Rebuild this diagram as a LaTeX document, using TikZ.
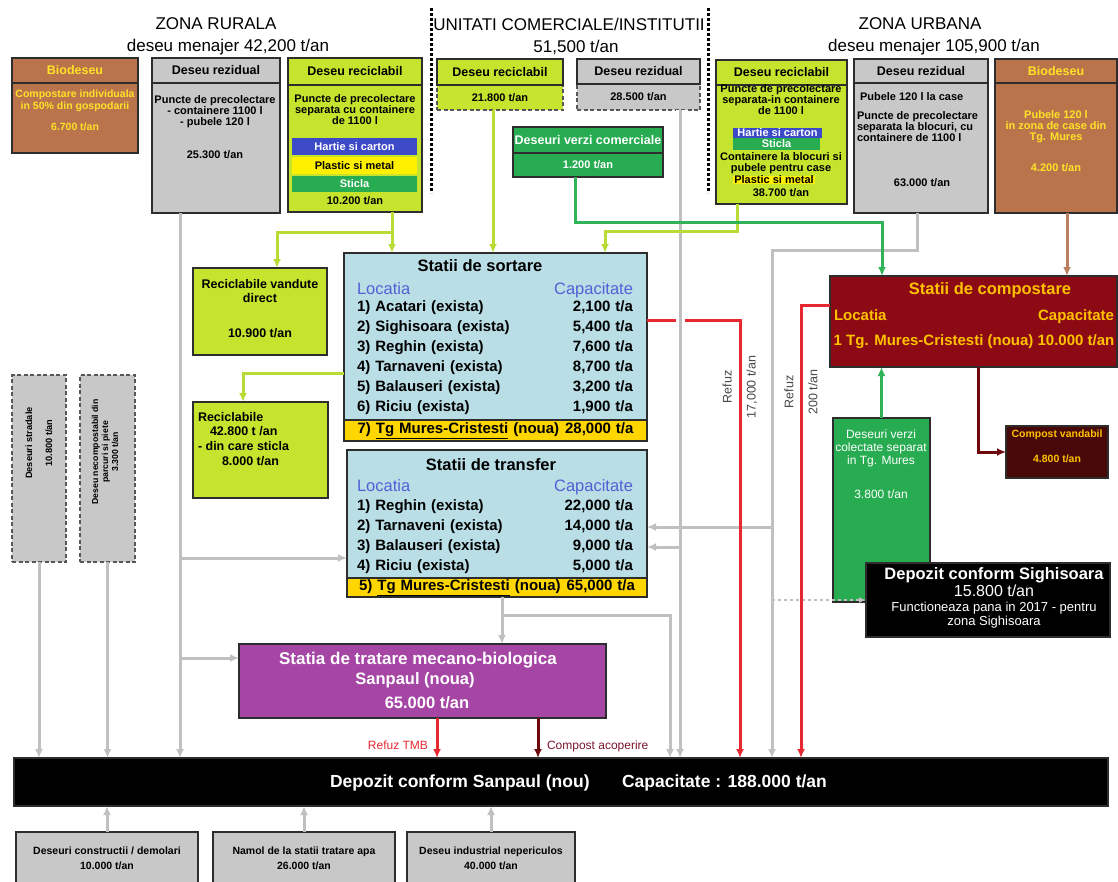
\documentclass[tikz,border=0pt]{standalone}
\usepackage{fontspec}
\setmainfont{Liberation Sans}
\usetikzlibrary{arrows.meta, positioning, calc}

\definecolor{bioC}{RGB}{186,116,76}
\definecolor{bioTxt}{RGB}{255,226,40}
\definecolor{greyC}{RGB}{200,200,200}
\definecolor{limeC}{RGB}{198,228,46}
\definecolor{blueC}{RGB}{60,74,200}
\definecolor{yelC}{RGB}{255,240,0}
\definecolor{greenC}{RGB}{40,172,82}
\definecolor{lblueC}{RGB}{186,222,230}
\definecolor{yrowC}{RGB}{255,214,0}
\definecolor{maroonC}{RGB}{140,10,20}
\definecolor{orangeTxt}{RGB}{255,194,0}
\definecolor{darkC}{RGB}{72,8,8}
\definecolor{purpleC}{RGB}{165,70,165}
\definecolor{edgeC}{RGB}{45,45,45}
\definecolor{locBlue}{RGB}{82,96,214}
\definecolor{lnGrey}{RGB}{192,192,192}
\definecolor{lnLime}{RGB}{184,220,52}
\definecolor{lnGreen}{RGB}{48,178,88}
\definecolor{lnRed}{RGB}{232,40,48}
\definecolor{lnBrown}{RGB}{186,126,96}
\definecolor{lnDark}{RGB}{110,10,14}
\definecolor{lblTxt}{RGB}{70,70,70}

\newcommand{\fZone}{\fontsize{17}{19}\selectfont}
\newcommand{\fHead}{\fontsize{12.5}{14}\selectfont\bfseries}
\newcommand{\fBox}{\fontsize{11}{10.7}\selectfont\bfseries}
\newcommand{\fBio}{\fontsize{10.5}{11.5}\selectfont\bfseries}
\newcommand{\fBig}{\fontsize{12.5}{14.7}\selectfont\bfseries}
\newcommand{\fTitle}{\fontsize{16.5}{19}\selectfont\bfseries}
\newcommand{\fLoc}{\fontsize{16.5}{18}\selectfont}
\newcommand{\fRow}{\fontsize{15}{20}\selectfont\bfseries}
\newcommand{\fSmall}{\fontsize{8.7}{10}\selectfont\bfseries}
\newcommand{\fLbl}{\fontsize{12.5}{24}\selectfont}

\begin{document}
\begin{tikzpicture}[x=1pt, y=-1pt,
    box/.style={draw=edgeC, line width=1.2pt, inner sep=0pt, outer sep=0pt, anchor=north west, align=center, font=\fBox},
    wh/.style 2 args={minimum width=#1pt, minimum height=#2pt},
    band/.style={inner sep=0pt, outer sep=0pt, anchor=north west, font=\fBox},
    txt/.style={inner sep=0pt, outer sep=0pt, align=center, font=\fBox},
    dashbox/.style={box, draw=edgeC!80, dash pattern=on 4pt off 2.5pt},
    headL/.style={-{Latex[length=9pt, width=8pt]}},
    flowG/.style={draw=lnGrey, line width=3pt, headL},
    flowL/.style={draw=lnLime, line width=3pt, headL},
    flowGr/.style={draw=lnGreen, line width=3pt, headL},
    flowR/.style={draw=lnRed, line width=3pt, headL},
    flowB/.style={draw=lnBrown, line width=3pt, headL},
    flowD/.style={draw=lnDark, line width=3pt, headL},
    halo/.style={preaction={draw=white, line width=9pt, -}},
    refLbl/.style={txt, font=\fLbl, text=lblTxt, rotate=90}
]
\useasboundingbox (0,0) rectangle (1118,881);

\node[txt, font=\fZone] (rurZone) at (216,24) {ZONA RURALA};
\node[txt, font=\fZone] (rurSub) at (228,47) {deseu menajer 42,200 t/an};
\node[txt, font=\fZone] (comZone) at (569,24) {UNITATI COMERCIALE/INSTITUTII};
\node[txt, font=\fZone] (comSub) at (576,47) {51,500 t/an};
\node[txt, font=\fZone] (urbZone) at (920,24) {ZONA URBANA};
\node[txt, font=\fZone] (urbSub) at (934,47) {deseu menajer 105,900 t/an};
\draw[line width=3pt, dash pattern=on 3pt off 2pt] (431,8) -- (431,193);
\draw[line width=3pt, dash pattern=on 3pt off 2pt] (708,8) -- (708,193);

% rural
\node[box, wh={126}{25}, fill=bioC, text=bioTxt, font=\fHead] (bioRurH) at (12,58) {Biodeseu};
\node[box, wh={126}{70}, fill=bioC, below=0pt of bioRurH] (bioRur) {};
\node[txt, font=\fBio, text=bioTxt, anchor=north] (bioRurTx) at (75,90) {Compostare individuala\\in 50\% din gospodarii\\[10pt]6.700 t/an};

\node[box, wh={128}{25}, fill=greyC, font=\fHead] (rezRurH) at (152,58) {Deseu rezidual};
\node[box, wh={128}{130}, fill=greyC, below=0pt of rezRurH] (rezRur) {};
\node[txt, anchor=north] (rezRurTx) at (215,96) {Puncte de precolectare\\- containere 1100 l\\- pubele 120 l\\[22pt]25.300 t/an};

\node[box, wh={134}{27}, fill=limeC, font=\fHead] (recRurH) at (288,58) {Deseu reciclabil};
\node[box, wh={134}{127}, fill=limeC, below=0pt of recRurH] (recRur) {};
\node[txt, anchor=north] (recRurTx) at (355,95) {Puncte de precolectare\\separata cu containere\\de 1100 l};
\node[band, wh={125}{17}, fill=blueC, text=white] (hartieRur) at (292,138) {Hartie si carton};
\node[band, wh={125}{17}, fill=yelC] (plastRur) at (292,157) {Plastic si metal};
\node[band, wh={125}{16}, fill=greenC, text=white] (sticlaRur) at (292,176) {Sticla};
\node[txt] (recRurQ) at (355,201) {10.200 t/an};

% comerciale
\node[dashbox, wh={126}{25}, fill=limeC] (recCom) at (437,85) {21.800 t/an};
\node[box, wh={126}{26}, fill=limeC, font=\fHead, above=0pt of recCom] (recComH) {Deseu reciclabil};
\node[dashbox, wh={123}{26}, fill=greyC] (rezCom) at (577,84) {28.500 t/an};
\node[box, wh={123}{25}, fill=greyC, font=\fHead, above=0pt of rezCom] (rezComH) {Deseu rezidual};
\node[box, wh={150}{26}, fill=greenC, text=white, font=\fHead] (verziComH) at (513,127) {Deseuri verzi comerciale};
\node[box, wh={150}{24}, fill=greenC, text=white, below=0pt of verziComH] (verziCom) {1.200 t/an};

% urban
\node[box, wh={131}{25}, fill=limeC, font=\fHead] (recUrbH) at (716,60) {Deseu reciclabil};
\node[box, wh={131}{119}, fill=limeC, below=0pt of recUrbH] (recUrb) {};
\node[txt, anchor=north] (recUrbTx) at (781,85) {Puncte de precolectare\\separata-in containere\\de 1100 l};
\node[band, wh={89}{10}, fill=blueC, text=white] (hartieUrb) at (733,128) {Hartie si carton};
\node[band, wh={87}{12}, fill=greenC, text=white] (sticlaUrb) at (733,138) {Sticla};
\node[txt, anchor=north] (recUrbTx2) at (781,153) {Containere la blocuri si\\pubele pentru case};
\node[txt, fill=yelC, inner xsep=1pt] (plastUrb) at (774,180) {Plastic si metal};
\node[txt] (recUrbQ) at (781,193) {38.700 t/an};

\node[box, wh={134}{24}, fill=greyC, font=\fHead] (rezUrbH) at (854,59) {Deseu rezidual};
\node[box, wh={134}{130}, fill=greyC, below=0pt of rezUrbH] (rezUrb) {};
\node[txt, anchor=west] (rezUrbTx) at (860,97) {Pubele 120 l la case};
\node[txt, align=left, anchor=north west] (rezUrbTx2) at (857,112) {Puncte de precolectare\\separata la blocuri, cu\\containere de 1100 l};
\node[txt] (rezUrbQ) at (922,183) {63.000 t/an};

\node[box, wh={122}{24}, fill=bioC, text=bioTxt, font=\fHead] (bioUrbH) at (995,59) {Biodeseu};
\node[box, wh={122}{130}, fill=bioC, below=0pt of bioUrbH] (bioUrb) {};
\node[txt, text=bioTxt, anchor=north] (bioUrbTx) at (1056,111) {Pubele 120 l\\in zona de case din\\Tg. Mures\\[20pt]4.200 t/an};

% left side
\node[dashbox, wh={54}{187}, fill=greyC] (stradale) at (12,375) {};
\node[txt, font=\fontsize{9.2}{10}\selectfont\bfseries, rotate=90] (stradaleTx) at (39,443) {Deseuri stradale\\[10pt]10.800 t/an};
\node[dashbox, wh={55}{187}, fill=greyC] (necomp) at (80,375) {};
\node[txt, font=\fSmall, rotate=90] (necompTx) at (105,452) {Deseu necompostabil din\\parcuri si piete\\3.300 t/an};

\node[box, wh={134}{87}, fill=limeC] (recVand) at (193,268) {};
\node[txt, font=\fBig, anchor=north] (recVandTx) at (260,279) {Reciclabile vandute\\direct\\[20pt]10.900 t/an};
\node[box, wh={135}{96}, fill=limeC] (recSort) at (193,402) {};
\node[txt, font=\fBig, align=left, anchor=north west] (recSortTx) at (198,412) {Reciclabile\\\hspace*{12pt}42.800 t /an\\- din care sticla\\\hspace*{24pt}8.000 t/an};

% statii
\node[box, wh={303}{167}, fill=lblueC] (sort) at (344,253) {};
\node[box, wh={303}{21}, fill=yrowC, font=\fRow, align=left, text width=276pt] (sortNew) at (344,420) {7) \underline{Tg Mures-Cristesti} (noua)\hfill 28,000 t/a};
\node[txt, font=\fTitle] (sortTitle) at (480,266) {Statii de sortare};
\node[txt, font=\fLoc, text=locBlue, align=left, text width=276pt] (sortHead) at (495,290) {Locatia\hfill Capacitate};
\node[txt, font=\fRow, align=left, text width=276pt, anchor=north] (sortRows) at (495,301) {1) Acatari (exista)\hfill 2,100 t/a\\2) Sighisoara (exista)\hfill 5,400 t/a\\3) Reghin (exista)\hfill 7,600 t/a\\4) Tarnaveni (exista)\hfill 8,700 t/a\\5) Balauseri (exista)\hfill 3,200 t/a\\6) Riciu (exista)\hfill 1,900 t/a};

\node[box, wh={300}{128}, fill=lblueC] (trans) at (347,450) {};
\node[box, wh={300}{19}, fill=yrowC, font=\fRow, align=left, text width=276pt] (transNew) at (347,578) {5) \underline{Tg Mures-Cristesti} (noua)\hfill 65,000 t/a};
\node[txt, font=\fTitle] (transTitle) at (491,465) {Statii de transfer};
\node[txt, font=\fLoc, text=locBlue, align=left, text width=276pt] (transHead) at (495,487) {Locatia\hfill Capacitate};
\node[txt, font=\fRow, align=left, text width=276pt, anchor=north] (transRows) at (495,500) {1) Reghin (exista)\hfill 22,000 t/a\\2) Tarnaveni (exista)\hfill 14,000 t/a\\3) Balauseri (exista)\hfill 9,000 t/a\\4) Riciu (exista)\hfill 5,000 t/a};

\node[box, wh={287}{91}, fill=maroonC] (comp) at (830,276) {};
\node[txt, font=\fTitle, text=orangeTxt] (compTitle) at (990,290) {Statii de compostare};
\node[txt, font=\fRow, text=orangeTxt, align=left, text width=280pt] (compHead) at (974,317) {Locatia\hfill Capacitate};
\node[txt, font=\fRow, text=orangeTxt] (compRow) at (974,342) {1 Tg. Mures-Cristesti (noua) 10.000 t/an};

\node[box, wh={97}{184}, fill=greenC] (verziSep) at (833,418) {};
\node[txt, font=\fontsize{12}{13}\selectfont, text=white, anchor=north] (verziSepTx) at (881,430) {Deseuri verzi\\colectate separat\\in Tg. Mures\\[21pt]3.800 t/an};
\node[box, wh={102}{52}, fill=darkC] (cVand) at (1006,426) {};
\node[txt, font=\fBio, text=orangeTxt, anchor=north] (cVandTx) at (1057,430) {Compost vandabil\\[13pt]4.800 t/an};

\node[box, wh={244}{74}, fill=black] (sigh) at (866,563) {};
\node[txt, font=\fontsize{16.5}{18}\selectfont\bfseries, text=white] (sighT1) at (994,575) {Depozit conform Sighisoara};
\node[txt, font=\fontsize{16}{18}\selectfont, text=white] (sighT2) at (994,591) {15.800 t/an};
\node[txt, font=\fontsize{13}{14}\selectfont, text=white] (sighT3) at (994,608) {Functioneaza pana in 2017 - pentru};
\node[txt, font=\fontsize{13}{14}\selectfont, text=white] (sighT4) at (994,622) {zona Sighisoara};

\node[box, wh={367}{74}, fill=purpleC] (mbt) at (239,644) {};
\node[txt, font=\fontsize{17}{19}\selectfont\bfseries, text=white] (mbtT1) at (418,660) {Statia de tratare mecano-biologica};
\node[txt, font=\fTitle, text=white] (mbtT2) at (415,680) {Sanpaul (noua)};
\node[txt, font=\fTitle, text=white] (mbtT3) at (427,703) {65.000 t/an};

\node[box, wh={1094}{48}, fill=black] (dep) at (14,758) {};
\node[txt, font=\fontsize{17.5}{19}\selectfont\bfseries, text=white, anchor=west] (depT1) at (330,783) {Depozit conform Sanpaul (nou)};
\node[txt, font=\fontsize{17.5}{19}\selectfont\bfseries, text=white, anchor=west] (depT2) at (622,783) {Capacitate : 188.000 t/an};

\node[box, wh={182}{52}, fill=greyC, font=\fontsize{10.5}{15}\selectfont\bfseries] (constr) at (16,832) {Deseuri constructii / demolari\\10.000 t/an};
\node[box, wh={182}{52}, fill=greyC, font=\fontsize{10.5}{15}\selectfont\bfseries] (namol) at (213,832) {Namol de la statii tratare apa\\26.000 t/an};
\node[box, wh={168}{52}, fill=greyC, font=\fontsize{10.5}{15}\selectfont\bfseries] (indus) at (407,832) {Deseu industrial nepericulos\\40.000 t/an};

% junctions
\coordinate (rurOut) at ($(rezRur.south west)+(28,0)$);
\coordinate (rurToTr) at ($(trans.south west)+(0,-20)$);
\coordinate (rurToMbt) at ($(mbt.north west)+(0,14)$);
\coordinate (trOut) at ($(transNew.south west)+(155,0)$);
\coordinate (trJ) at ($(trOut)+(0,18)$);
\coordinate (trDown) at ($(trJ)+(168,0)$);
\coordinate (comOut) at ($(rezCom.south west)+(103,0)$);
\coordinate (trIn1) at ($(trans.south east)+(0,-51)$);
\coordinate (trIn2) at ($(trans.south east)+(0,-31)$);
\coordinate (urbOut) at ($(rezUrb.south west)+(63,0)$);
\coordinate (urbJ) at ($(urbOut)+(0,37)$);
\coordinate (urbDown) at ($(urbJ)+(-145,0)$);
\coordinate (sortOut) at ($(sort.north east)+(0,67)$);
\coordinate (refS) at ($(sortOut)+(93,0)$);
\coordinate (comX) at ($(comOut |- sortOut)+(0,12)$);
\coordinate (compOut) at ($(comp.north west)+(0,29)$);
\coordinate (refC) at ($(compOut)+(-29,0)$);
\coordinate (mbtRef) at ($(mbt.south west)+(198,0)$);
\coordinate (mbtCmp) at ($(mbt.south west)+(299,0)$);
\coordinate (vcOut) at ($(verziCom.south west)+(62,0)$);
\coordinate (vcJ) at ($(vcOut)+(0,45)$);
\coordinate (compIn) at ($(comp.north west)+(52,0)$);
\coordinate (bioOut) at ($(bioUrb.south west)+(72,0)$);
\coordinate (cvOut) at ($(comp.south west)+(148,0)$);
\coordinate (rrOut) at ($(recRur.south west)+(104,0)$);
\coordinate (rrJ) at ($(rrOut)+(0,20)$);
\coordinate (vandIn) at ($(recVand.north west)+(84,0)$);
\coordinate (rcOut) at ($(recCom.south west)+(56,0)$);
\coordinate (ruOut) at ($(recUrb.south west)+(21,0)$);
\coordinate (ruJ) at ($(ruOut)+(0,27)$);
\coordinate (sortIn3) at ($(sort.north west)+(261,0)$);
\coordinate (sortOutL) at ($(sort.north west)+(0,120)$);
\coordinate (recSIn) at ($(recSort.north west)+(50,0)$);

% grey flows
\draw[flowG] (stradale.south) -- (stradale.south |- dep.north);
\draw[flowG] (necomp.south) -- (necomp.south |- dep.north);
\draw[flowG] (rurOut) -- (rurOut |- dep.north);
\draw[flowG] (rurToTr -| rurOut) -- (rurToTr);
\draw[flowG] (rurToMbt -| rurOut) -- (rurToMbt);
\draw[flowG] (trOut) -- (trOut |- mbt.north);
\draw[flowG] (trJ) -- (trDown) -- (trDown |- dep.north);
\draw[flowG] (urbOut) -- (urbJ) -- (urbDown) -- (urbDown |- dep.north);
\draw[flowG] (trIn1 -| urbDown) -- (trIn1);
\draw[draw=lnGrey, line width=1.5pt, dashed, -{Latex[length=7pt, width=6pt]}] (sigh.west -| urbDown) -- (sigh.west);
\draw[flowG] (constr.north) -- (constr.north |- dep.south);
\draw[flowG] (namol.north) -- (namol.north |- dep.south);
\draw[flowG] (indus.north) -- (indus.north |- dep.south);

% refuz
\draw[flowR] (sortOut) -- (refS) -- (refS |- dep.north);
\draw[draw=lnGrey, line width=3pt, halo] (comOut) -- (comX);
\draw[flowG] (comX) -- (comOut |- dep.north);
\draw[flowG] (trIn2 -| comOut) -- (trIn2);
\draw[flowR] (compOut) -- (refC) -- (refC |- dep.north);
\node[refLbl] (refSLbl) at ($(refS)+(0,67)$) {Refuz\\17,000 t/an};
\node[refLbl] (refCLbl) at ($(refC)+(0,87)$) {Refuz\\200 t/an};
\draw[flowR] (mbtRef) -- (mbtRef |- dep.north);
\node[txt, font=\fontsize{12}{13}\selectfont, text=lnRed, anchor=east] (refTmbLbl) at ($(mbtRef)+(-9,27)$) {Refuz TMB};
\draw[flowD] (mbtCmp) -- (mbtCmp |- dep.north);
\node[txt, font=\fontsize{12}{13}\selectfont, text=lnDark!80!purpleC, anchor=west] (cmpAcLbl) at ($(mbtCmp)+(9,28)$) {Compost acoperire};

% reciclabile
\draw[flowL] (rrOut) -- (rrOut |- sort.north);
\draw[flowL] (rrJ) -| (vandIn);
\draw[flowL] (rcOut) -- (rcOut |- sort.north);
\draw[flowL] (ruOut) -- (ruJ) -| (sortIn3);
\draw[flowL] (sortOutL) -| (recSIn);

% compost
\draw[flowGr] (vcOut) -- (vcJ) -- (vcJ -| compIn) -- (compIn);
\draw[flowGr] (verziSep.north) -- (verziSep.north |- comp.south);
\draw[flowB] (bioOut) -- (bioOut |- comp.north);
\draw[flowD] (cvOut) |- (cVand.west);
\end{tikzpicture}
\end{document}
